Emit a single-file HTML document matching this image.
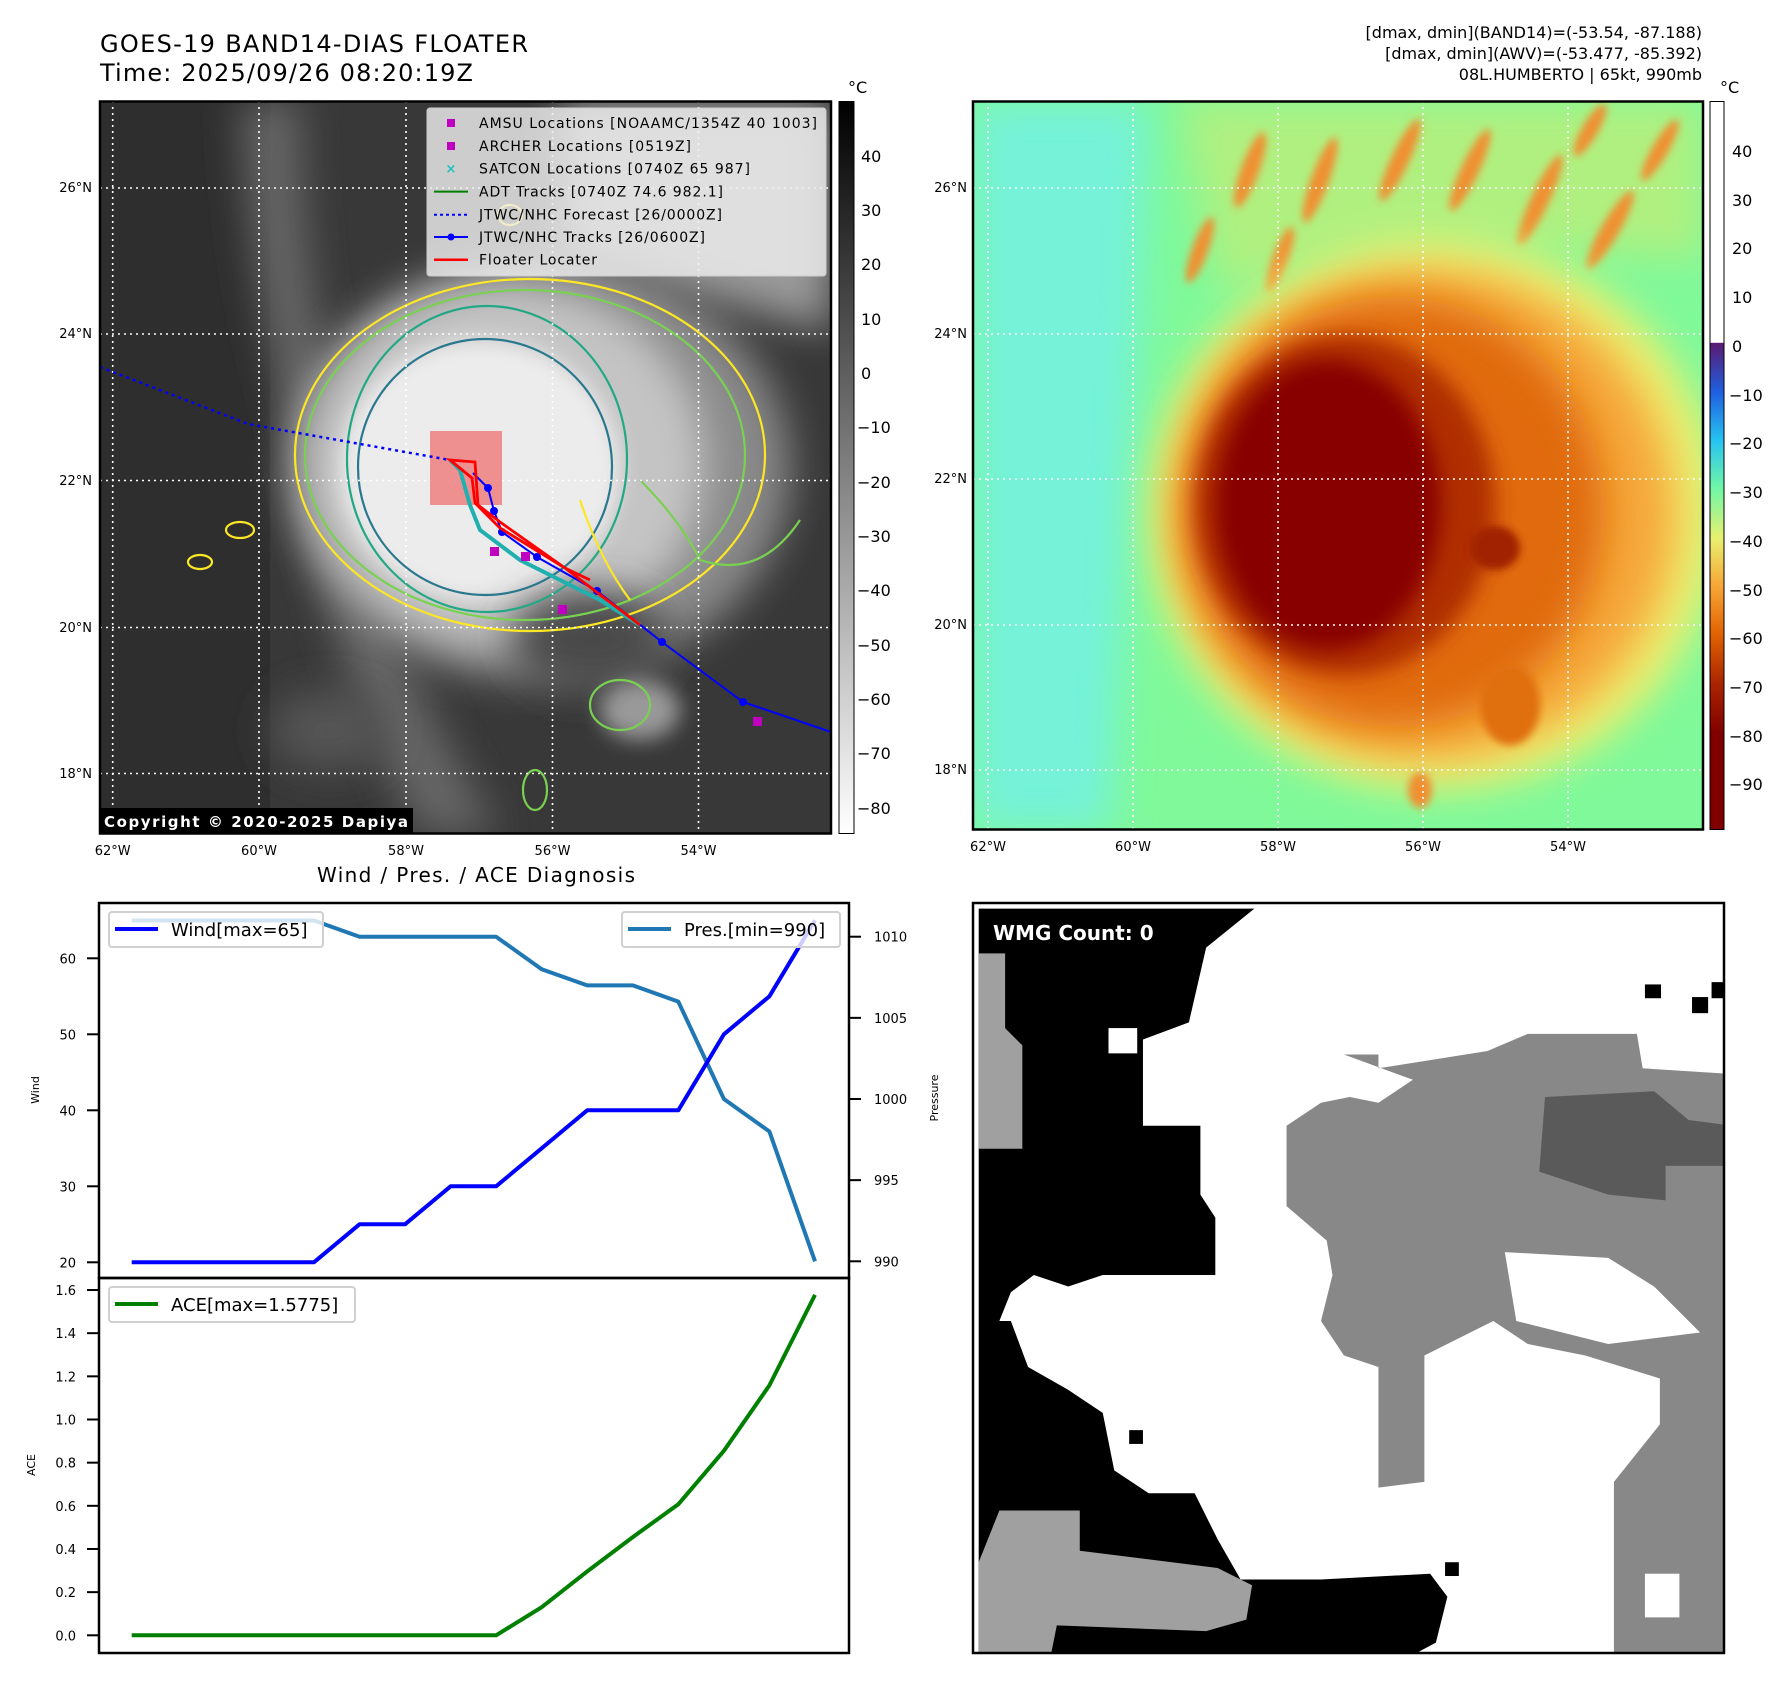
<!DOCTYPE html>
<html><head><meta charset="utf-8"><style>
html,body{margin:0;padding:0;background:#fff;}
svg{display:block;font-family:"DejaVu Sans","Liberation Sans",sans-serif;}
</style></head><body>
<svg id="root" width="1792" height="1690" viewBox="0 0 1792 1690" xmlns="http://www.w3.org/2000/svg">
<defs>
<clipPath id="clipL"><rect x="100" y="101" width="731" height="732"/></clipPath>
<clipPath id="clipR"><rect x="973" y="101" width="730" height="729"/></clipPath>
<clipPath id="clipBR"><rect x="973" y="903" width="751" height="750"/></clipPath>
<filter id="b20" x="-50%" y="-50%" width="200%" height="200%"><feGaussianBlur stdDeviation="20"/></filter>
<filter id="b10" x="-50%" y="-50%" width="200%" height="200%"><feGaussianBlur stdDeviation="10"/></filter>
<filter id="b4" x="-50%" y="-50%" width="200%" height="200%"><feGaussianBlur stdDeviation="4"/></filter>
<linearGradient id="cbL" x1="0" y1="0" x2="0" y2="1"><stop offset="0" stop-color="#000"/><stop offset="1" stop-color="#fff"/></linearGradient>
<linearGradient id="cbR" x1="0" y1="0" x2="0" y2="1">
<stop offset="0" stop-color="#fff"/><stop offset="0.331" stop-color="#fff"/><stop offset="0.332" stop-color="#5a1a72"/>
<stop offset="0.399" stop-color="#1f5fe0"/><stop offset="0.466" stop-color="#27c3f2"/><stop offset="0.533" stop-color="#72f7a4"/>
<stop offset="0.600" stop-color="#e8f070"/><stop offset="0.667" stop-color="#f7a535"/><stop offset="0.734" stop-color="#e06000"/>
<stop offset="0.801" stop-color="#a82400"/><stop offset="0.868" stop-color="#800000"/><stop offset="1" stop-color="#800000"/></linearGradient>
</defs>

<text x="100" y="52" font-size="24" textLength="428">GOES-19 BAND14-DIAS FLOATER</text>
<text x="100" y="81" font-size="24" textLength="373">Time: 2025/09/26 08:20:19Z</text>
<g font-size="16" text-anchor="end">
<text x="1702" y="38">[dmax, dmin](BAND14)=(-53.54, -87.188)</text>
<text x="1702" y="59">[dmax, dmin](AWV)=(-53.477, -85.392)</text>
<text x="1702" y="80">08L.HUMBERTO | 65kt, 990mb</text>
</g>

<!-- LEFT MAP -->
<g clip-path="url(#clipL)">
<rect x="100" y="101" width="731" height="732" fill="#383838"/>
<rect x="100" y="101" width="170" height="732" fill="#2e2e2e"/>
<path d="M240 101 Q250 300 300 450 Q320 650 420 833 L500 833 Q380 650 350 450 Q300 300 300 101Z" fill="#666" filter="url(#b20)"/>
<path d="M560 101 L831 101 L831 330 Q700 300 560 250Z" fill="#9a9a9a" filter="url(#b20)"/>
<ellipse cx="540" cy="470" rx="250" ry="210" fill="#8a8a8a" filter="url(#b20)"/>
<ellipse cx="505" cy="465" rx="200" ry="180" fill="#c4c4c4" filter="url(#b20)"/>
<ellipse cx="480" cy="470" rx="140" ry="130" fill="#ececec" filter="url(#b10)"/>
<ellipse cx="590" cy="640" rx="80" ry="50" fill="#4a4a4a" filter="url(#b20)"/>
<ellipse cx="640" cy="710" rx="40" ry="30" fill="#999" filter="url(#b10)"/>
<ellipse cx="330" cy="730" rx="60" ry="40" fill="#555" filter="url(#b20)"/>
<g fill="none" stroke-width="2.2">
<ellipse cx="530" cy="455" rx="235" ry="176" stroke="#fde725"/>
<ellipse cx="525" cy="455" rx="220" ry="165" stroke="#7ad151"/>
<ellipse cx="487" cy="459" rx="140" ry="153" stroke="#22a884"/>
<ellipse cx="485" cy="467" rx="127" ry="128" stroke="#2a788e"/>
<path d="M580 500 Q600 560 630 600" stroke="#fde725"/>
<path d="M640 480 Q680 520 700 560 Q760 580 800 520" stroke="#7ad151"/>
<ellipse cx="620" cy="705" rx="30" ry="25" stroke="#7ad151"/>
<ellipse cx="510" cy="215" rx="12" ry="10" stroke="#fde725"/>
<ellipse cx="240" cy="530" rx="14" ry="8" stroke="#fde725"/>
<ellipse cx="200" cy="562" rx="12" ry="7" stroke="#fde725"/>
<ellipse cx="535" cy="790" rx="12" ry="20" stroke="#7ad151"/>
</g>
</g>
<g stroke="#fff" stroke-width="1.6" stroke-dasharray="2,4" fill="none">
<line x1="112.7" y1="101" x2="112.7" y2="833"/><line x1="259" y1="101" x2="259" y2="833"/><line x1="406" y1="101" x2="406" y2="833"/><line x1="552.5" y1="101" x2="552.5" y2="833"/><line x1="698.5" y1="101" x2="698.5" y2="833"/>
<line x1="100" y1="188" x2="831" y2="188"/><line x1="100" y1="334" x2="831" y2="334"/><line x1="100" y1="480.5" x2="831" y2="480.5"/><line x1="100" y1="627.5" x2="831" y2="627.5"/><line x1="100" y1="773.5" x2="831" y2="773.5"/>
</g>
<g>
<rect x="430" y="431" width="72" height="74" fill="#f08080" opacity="0.85"/>
<polyline points="100,367 248,424 450,460" fill="none" stroke="#0000ff" stroke-width="2.5" stroke-dasharray="3,4"/>
<polyline points="831,732 743,702 662,642 597,591 537,557 502,532 494,511 488,488 473,473" fill="none" stroke="#0000ff" stroke-width="2"/>
<g fill="#0000ff"><circle cx="743" cy="702" r="4"/><circle cx="662" cy="642" r="4"/><circle cx="597" cy="591" r="4"/><circle cx="537" cy="557" r="4"/><circle cx="502" cy="532" r="4"/><circle cx="494" cy="511" r="4"/><circle cx="488" cy="488" r="4"/></g>
<polyline points="640,625 600,600 560,580 520,560 480,530 470,505 460,470 450,460" fill="none" stroke="#20b0b0" stroke-width="4"/>
<polyline points="640,625 565,568 500,528 475,503 472,478 450,460 475,462 478,505 500,522 565,568 590,580" fill="none" stroke="#ff0000" stroke-width="2.8"/>
<g fill="#c000c0"><rect x="490" y="547" width="9" height="9"/><rect x="521" y="552" width="9" height="9"/><rect x="558" y="605" width="9" height="9"/><rect x="753" y="717" width="9" height="9"/></g>
</g>
<g>
<rect x="427" y="108" width="399" height="168" rx="3" fill="#eee" fill-opacity="0.82" stroke="#ccc"/>
<rect x="447" y="119" width="8" height="8" fill="#c000c0"/>
<rect x="447" y="142" width="8" height="8" fill="#c000c0"/>
<text x="451" y="173" font-size="13" fill="#20c0c0" text-anchor="middle" font-weight="bold">×</text>
<line x1="434" y1="191.6" x2="468" y2="191.6" stroke="#008000" stroke-width="2"/>
<line x1="434" y1="214.7" x2="468" y2="214.7" stroke="#0000ff" stroke-width="2" stroke-dasharray="3,3"/>
<line x1="434" y1="237" x2="468" y2="237" stroke="#0000ff" stroke-width="2"/><circle cx="451" cy="237" r="3.5" fill="#0000ff"/>
<line x1="434" y1="259.7" x2="468" y2="259.7" stroke="#ff0000" stroke-width="2.5"/>
<g font-size="14">
<text x="479" y="128" textLength="338">AMSU Locations [NOAAMC/1354Z 40 1003]</text>
<text x="479" y="151" textLength="212">ARCHER Locations [0519Z]</text>
<text x="479" y="173.5" textLength="271">SATCON Locations [0740Z 65 987]</text>
<text x="479" y="196.5" textLength="244">ADT Tracks [0740Z 74.6 982.1]</text>
<text x="479" y="219.5" textLength="243">JTWC/NHC Forecast [26/0000Z]</text>
<text x="479" y="242" textLength="226">JTWC/NHC Tracks [26/0600Z]</text>
<text x="479" y="264.5" textLength="118">Floater Locater</text>
</g></g>
<rect x="100" y="808" width="313" height="26" fill="#000"/>
<text x="104" y="827" font-size="15" font-weight="bold" fill="#fff" textLength="304">Copyright © 2020-2025 Dapiya</text>
<rect x="100" y="101.5" width="731" height="732" fill="none" stroke="#000" stroke-width="2.5"/>
<g font-size="13">
<g text-anchor="end"><text x="92" y="192">26°N</text><text x="92" y="338">24°N</text><text x="92" y="485">22°N</text><text x="92" y="632">20°N</text><text x="92" y="778">18°N</text></g>
<g text-anchor="middle"><text x="112.7" y="855">62°W</text><text x="259" y="855">60°W</text><text x="406" y="855">58°W</text><text x="552.5" y="855">56°W</text><text x="698.5" y="855">54°W</text></g>
</g>
<rect x="839" y="101.5" width="15" height="732" fill="url(#cbL)" stroke="#000" stroke-width="1"/>
<g font-size="16">
<text x="848" y="93">°C</text>
<text x="861" y="162">40</text><text x="861" y="216">30</text><text x="861" y="270">20</text><text x="861" y="325">10</text><text x="861" y="379">0</text><text x="857" y="433">−10</text><text x="857" y="488">−20</text><text x="857" y="542">−30</text><text x="857" y="596">−40</text><text x="857" y="651">−50</text><text x="857" y="705">−60</text><text x="857" y="759">−70</text><text x="857" y="814">−80</text>
</g>

<!-- RIGHT MAP -->
<g clip-path="url(#clipR)">
<rect x="973" y="101" width="730" height="729" fill="#7ff99a"/>
<path d="M973 101 L1150 101 L1130 500 L1110 830 L973 830Z" fill="#74f2d8" filter="url(#b20)"/>
<path d="M1180 101 L1703 101 L1703 260 Q1450 230 1220 290Z" fill="#b0f080" filter="url(#b20)"/>
<g fill="#f09030" filter="url(#b4)">
<ellipse cx="1250" cy="170" rx="9" ry="40" transform="rotate(20 1250 170)"/><ellipse cx="1320" cy="180" rx="9" ry="45" transform="rotate(20 1320 180)"/>
<ellipse cx="1400" cy="160" rx="9" ry="45" transform="rotate(25 1400 160)"/><ellipse cx="1470" cy="170" rx="9" ry="45" transform="rotate(25 1470 170)"/>
<ellipse cx="1540" cy="200" rx="9" ry="50" transform="rotate(25 1540 200)"/><ellipse cx="1610" cy="230" rx="9" ry="45" transform="rotate(30 1610 230)"/>
<ellipse cx="1660" cy="150" rx="8" ry="35" transform="rotate(30 1660 150)"/><ellipse cx="1590" cy="130" rx="8" ry="30" transform="rotate(30 1590 130)"/>
<ellipse cx="1200" cy="250" rx="8" ry="35" transform="rotate(20 1200 250)"/><ellipse cx="1280" cy="260" rx="8" ry="35" transform="rotate(20 1280 260)"/>
</g>
<ellipse cx="1435" cy="515" rx="285" ry="275" fill="#eef070" filter="url(#b20)"/>
<ellipse cx="1425" cy="515" rx="250" ry="245" fill="#f6a83a" filter="url(#b20)"/>
<ellipse cx="1395" cy="512" rx="210" ry="215" fill="#e06a08" filter="url(#b20)"/>
<ellipse cx="1345" cy="505" rx="150" ry="170" fill="#b02e00" filter="url(#b10)"/>
<ellipse cx="1328" cy="505" rx="112" ry="145" fill="#880400" filter="url(#b10)"/>
<ellipse cx="1495" cy="548" rx="25" ry="22" fill="#a02000" filter="url(#b4)"/>
<ellipse cx="1510" cy="705" rx="30" ry="40" fill="#e07010" filter="url(#b4)"/>
<ellipse cx="1420" cy="790" rx="12" ry="18" fill="#f09030" filter="url(#b4)"/>
</g>
<g stroke="#fff" stroke-width="1.6" stroke-dasharray="2,4">
<line x1="988" y1="101" x2="988" y2="830"/><line x1="1133" y1="101" x2="1133" y2="830"/><line x1="1278" y1="101" x2="1278" y2="830"/><line x1="1423" y1="101" x2="1423" y2="830"/><line x1="1568" y1="101" x2="1568" y2="830"/>
<line x1="973" y1="188" x2="1703" y2="188"/><line x1="973" y1="334" x2="1703" y2="334"/><line x1="973" y1="479" x2="1703" y2="479"/><line x1="973" y1="625" x2="1703" y2="625"/><line x1="973" y1="770" x2="1703" y2="770"/>
</g>
<rect x="973" y="101.5" width="730" height="728" fill="none" stroke="#000" stroke-width="2.5"/>
<g font-size="13">
<g text-anchor="end"><text x="967" y="192">26°N</text><text x="967" y="338">24°N</text><text x="967" y="483">22°N</text><text x="967" y="629">20°N</text><text x="967" y="774">18°N</text></g>
<g text-anchor="middle"><text x="988" y="851">62°W</text><text x="1133" y="851">60°W</text><text x="1278" y="851">58°W</text><text x="1423" y="851">56°W</text><text x="1568" y="851">54°W</text></g>
</g>
<rect x="1710" y="101.5" width="14" height="728" fill="url(#cbR)" stroke="#000" stroke-width="1"/>
<g font-size="16">
<text x="1720" y="93">°C</text>
<text x="1732" y="157">40</text><text x="1732" y="206">30</text><text x="1732" y="254">20</text><text x="1732" y="303">10</text><text x="1732" y="352">0</text><text x="1729" y="401">−10</text><text x="1729" y="449">−20</text><text x="1729" y="498">−30</text><text x="1729" y="547">−40</text><text x="1729" y="596">−50</text><text x="1729" y="644">−60</text><text x="1729" y="693">−70</text><text x="1729" y="742">−80</text><text x="1729" y="790">−90</text>
</g>

<text x="476" y="882" font-size="20" text-anchor="middle" textLength="318">Wind / Pres. / ACE Diagnosis</text>
<g id="chart"></g>

<g>
<rect x="973" y="903" width="751" height="750" fill="#fff"/>
<g clip-path="url(#clipBR)"><g transform="scale(1.1487)">
<path d="M1170 918 L1200 918 L1200 930 L1295 915 L1330 900 L1425 900 L1430 930 L1508 935 L1508 1400 L1500 1440 L1405 1440 L1405 1290 L1445 1240 L1445 1200 L1380 1180 L1330 1170 L1300 1150 L1240 1180 L1240 1290 L1200 1295 L1200 1190 L1170 1180 L1150 1150 L1160 1110 L1155 1080 L1120 1050 L1120 980 L1150 960 L1175 955 L1200 960 L1230 940Z" fill="#888"/>
<path d="M1310 1090 L1400 1095 L1440 1120 L1480 1160 L1400 1170 L1320 1150Z" fill="#fff"/>
<rect x="1432" y="1370" width="30" height="38" fill="#fff"/>
<path d="M1345 955 L1440 950 L1470 975 L1508 980 L1508 1015 L1450 1015 L1450 1045 L1400 1040 L1340 1020Z" fill="#5a5a5a"/>
<path d="M852 791 L1092 791 L1050 825 L1035 890 L995 905 L995 980 L1045 980 L1045 1040 L1058 1060 L1058 1110 L1000 1110 L960 1110 L930 1120 L900 1110 L880 1125 L870 1150 L852 1150Z" fill="#000"/>
<rect x="965" y="895" width="25" height="22" fill="#fff"/>
<path d="M852 1150 L880 1150 L895 1190 L930 1210 L960 1230 L970 1280 L1000 1300 L1040 1300 L1060 1340 L1080 1375 L1150 1375 L1245 1370 L1260 1390 L1250 1430 L1220 1446 L852 1446Z" fill="#000"/>
<path d="M852 830 L875 830 L875 895 L890 910 L890 1000 L852 1000Z" fill="#a0a0a0"/>
<path d="M870 1315 L940 1315 L940 1350 L1060 1365 L1090 1380 L1085 1410 L1050 1420 L920 1415 L915 1440 L852 1440 L852 1360Z" fill="#a0a0a0"/>
<rect x="1432" y="857" width="14" height="12" fill="#000"/><rect x="1473" y="868" width="14" height="14" fill="#000"/><rect x="1490" y="855" width="14" height="14" fill="#000"/>
<rect x="1258" y="1360" width="12" height="12" fill="#000"/><rect x="983" y="1245" width="12" height="12" fill="#000"/>
</g></g>
<rect x="973" y="903" width="751" height="750" fill="none" stroke="#000" stroke-width="2.5"/>
<text x="993" y="940" font-size="20" font-weight="bold" fill="#fff">WMG Count: 0</text>
</g>

<script>
const categories = [0,1,2,3,4,5,6,7,8,9,10,11,12,13,14,15];
const windValues = [20,20,20,20,20,25,25,30,30,35,40,40,40,50,55,65];
const presValues = [1011,1011,1011,1011,1011,1010,1010,1010,1010,1008,1007,1007,1006,1000,998,990];
const aceValues = [0,0,0,0,0,0,0,0,0,0.13,0.296,0.455,0.607,0.855,1.158,1.5775];
const windTicks = [20,30,40,50,60];
const presTicks = [990,995,1000,1005,1010];
const aceTicks = [0,0.2,0.4,0.6,0.8,1.0,1.2,1.4,1.6];

const NS = 'http://www.w3.org/2000/svg';
const chart = document.getElementById('chart');
function mk(tag, attrs, parent){ const e=document.createElementNS(NS,tag); for(const k in attrs) e.setAttribute(k,attrs[k]); (parent||chart).appendChild(e); return e; }
const xS = i => 131.7 + (i - categories[0]) * (815 - 131.7) / (categories.length - 1);
const yW = w => 1262.3 - (w - 20) * 7.6;
const yP = p => 1261.3 - (p - 990) * 16.23;
const yA = a => 1635.3 - a * 215.8;

let f1 = mk('rect',{x:99,y:903,width:750,height:375,fill:'none',stroke:'#000','stroke-width':2.5});


let f2 = mk('rect',{x:99,y:1278,width:750,height:375,fill:'none',stroke:'#000','stroke-width':2.5});



windTicks.forEach(t=>{
  const y=yW(t);
  const tk=mk('line',{x1:87,x2:99,y1:y,y2:y,stroke:'#000','stroke-width':2});
  
  
  const lb=mk('text',{x:76,y:y+5,'font-size':13,'text-anchor':'end'}); lb.textContent=t;
  
  
});
presTicks.forEach(t=>{
  const y=yP(t);
  const tk=mk('line',{x1:849,x2:861,y1:y,y2:y,stroke:'#000','stroke-width':2});
  
  
  const lb=mk('text',{x:874,y:y+5,'font-size':13}); lb.textContent=t;
  
  
});
aceTicks.forEach(t=>{
  const y=yA(t);
  const tk=mk('line',{x1:87,x2:99,y1:y,y2:y,stroke:'#000','stroke-width':2});
  
  
  const lb=mk('text',{x:76,y:y+5,'font-size':13,'text-anchor':'end'}); lb.textContent=t.toFixed(1);
  
  
});
let yl1=mk('text',{x:0,y:0,'font-size':11,'text-anchor':'middle',transform:'translate(39,1090) rotate(-90)'}); yl1.textContent='Wind';


let yl2=mk('text',{x:0,y:0,'font-size':11,'text-anchor':'middle',transform:'translate(938,1098) rotate(-90)'}); yl2.textContent='Pressure';


let yl3=mk('text',{x:0,y:0,'font-size':11,'text-anchor':'middle',transform:'translate(35,1465) rotate(-90)'}); yl3.textContent='ACE';



const pts = (arr, ys) => arr.map((v,i)=>xS(categories[i]).toFixed(1)+','+ys(v).toFixed(1)).join(' ');
let lp=mk('polyline',{points:pts(presValues,yP),fill:'none',stroke:'#1f77b4','stroke-width':4,'stroke-linejoin':'round'});


let lw=mk('polyline',{points:pts(windValues,yW),fill:'none',stroke:'#0000ff','stroke-width':4,'stroke-linejoin':'round'});


let la=mk('polyline',{points:pts(aceValues,yA),fill:'none',stroke:'#008000','stroke-width':4,'stroke-linejoin':'round'});



function legend(x,y,w,color,label,name){
  const g=mk('g',{});
  
  
  mk('rect',{x:x,y:y,width:w,height:35,rx:3,fill:'#fff','fill-opacity':0.8,stroke:'#d0d0d0','stroke-width':2},g);
  mk('line',{x1:x+6,x2:x+49,y1:y+17,y2:y+17,stroke:color,'stroke-width':4},g);
  const t=mk('text',{x:x+62,y:y+24,'font-size':18},g); t.textContent=label;
  return g;
}
legend(109,912,214,'#0000ff','Wind[max='+Math.max(...windValues)+']','wind-legend');
legend(622,912,218,'#1f77b4','Pres.[min='+Math.min(...presValues)+']','pressure-legend');
legend(109,1287,246,'#008000','ACE[max='+Math.max(...aceValues)+']','ace-legend');
</script>
</svg>
</body></html>
